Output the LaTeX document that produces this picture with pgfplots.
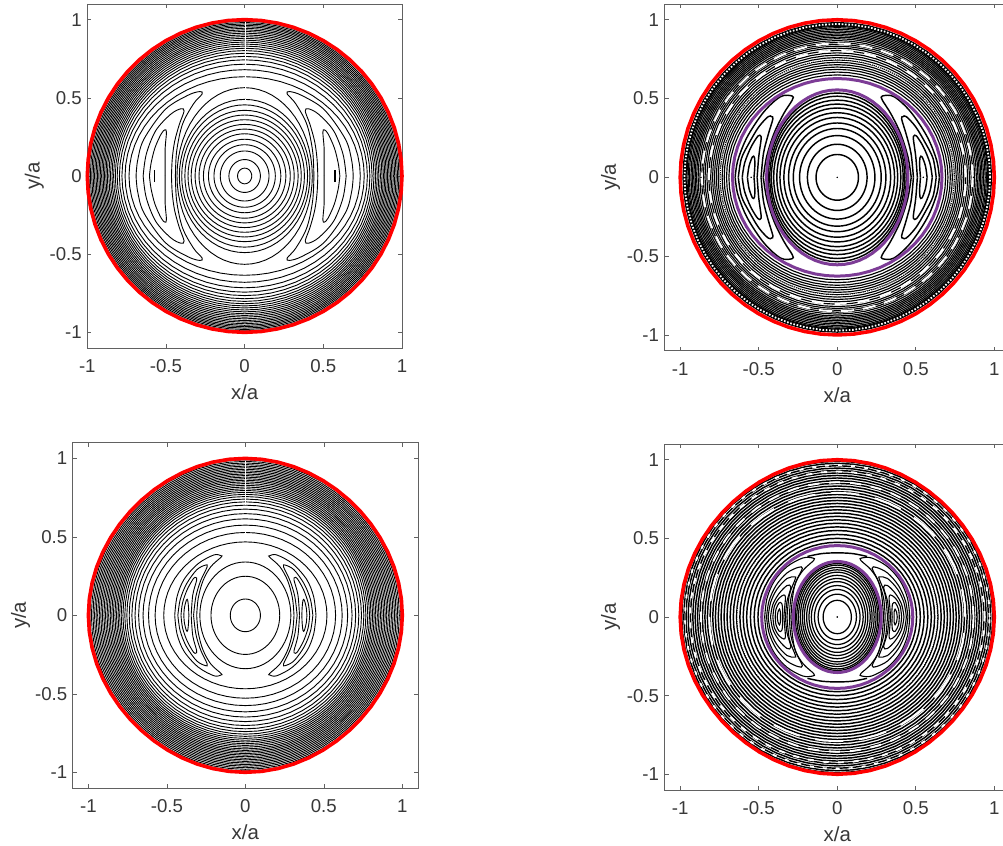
\documentclass[border=0pt]{standalone}
\usepackage{pgfplots}
\usepackage{pgfplotstable}
\usepackage{fontspec}
\setmainfont{Liberation Sans}
\pgfplotsset{compat=1.18}
\definecolor{lab}{gray}{0.22}
\definecolor{box}{gray}{0.38}
\definecolor{purp}{RGB}{125,60,150}
\pgfplotstableread{
c s f
1 0 1
.9945 .1045 .9995
.9781 .2079 .998
.9511 .3090 .9959
.9135 .4067 .9934
.8660 .5 .991
.8090 .5878 .9891
.7431 .6691 .9881
.6691 .7431 .9881
.5878 .8090 .9891
.5 .8660 .991
.4067 .9135 .9934
.3090 .9511 .9959
.2079 .9781 .998
.1045 .9945 .9995
0 1 1
-.1045 .9945 .9995
-.2079 .9781 .998
-.3090 .9511 .9959
-.4067 .9135 .9934
-.5 .8660 .991
-.5878 .8090 .9891
-.6691 .7431 .9881
-.7431 .6691 .9881
-.8090 .5878 .9891
-.8660 .5 .991
-.9135 .4067 .9934
-.9511 .3090 .9959
-.9781 .2079 .998
-.9945 .1045 .9995
-1 0 1
-.9945 -.1045 .9995
-.9781 -.2079 .998
-.9511 -.3090 .9959
-.9135 -.4067 .9934
-.8660 -.5 .991
-.8090 -.5878 .9891
-.7431 -.6691 .9881
-.6691 -.7431 .9881
-.5878 -.8090 .9891
-.5 -.8660 .991
-.4067 -.9135 .9934
-.3090 -.9511 .9959
-.2079 -.9781 .998
-.1045 -.9945 .9995
0 -1 1
.1045 -.9945 .9995
.2079 -.9781 .998
.3090 -.9511 .9959
.4067 -.9135 .9934
.5 -.8660 .991
.5878 -.8090 .9891
.6691 -.7431 .9881
.7431 -.6691 .9881
.8090 -.5878 .9891
.8660 -.5 .991
.9135 -.4067 .9934
.9511 -.3090 .9959
.9781 -.2079 .998
.9945 -.1045 .9995
1 0 1
}\UnitRing
% --- top left crescents
\pgfplotstableread{
x y
.69 0
.68 .10
.64 .236
.506 .424
.361 .516
.285 .54
.27 .525
.324 .463
.395 .331
.432 .159
.44 0
}\tlA
\pgfplotstableread{
x y
.645 0
.625 .14
.565 .29
.47 .395
.405 .43
.385 .415
.415 .33
.445 .22
.46 .11
.465 0
}\tlB
\pgfplotstableread{
x y
.605 0
.595 .08
.57 .18
.53 .27
.507 .295
.497 .28
.505 .18
.505 .08
.505 0
}\tlC
% --- top right crescents
\pgfplotstableread{
x y
.65 0
.633 .108
.573 .257
.467 .416
.361 .512
.287 .516
.287 .49
.34 .406
.403 .278
.45 .13
.471 0
}\trA
\pgfplotstableread{
x y
.63 0
.61 .12
.56 .22
.50 .32
.44 .385
.418 .385
.41 .37
.44 .27
.47 .15
.485 0
}\trB
\pgfplotstableread{
x y
.605 0
.59 .09
.55 .19
.505 .262
.487 .262
.485 .24
.50 .13
.51 0
}\trC
\pgfplotstableread{
x y
.572 0
.562 .07
.54 .13
.527 .125
.525 .07
.53 0
}\trD
% --- bottom left crescents
\pgfplotstableread{
x y
.45 0
.435 .12
.39 .23
.30 .33
.2 .385
.155 .38
.155 .37
.22 .31
.27 .22
.30 .11
.31 0
}\blA
\pgfplotstableread{
x y
.43 0
.415 .1
.375 .2
.31 .29
.255 .32
.243 .31
.285 .22
.315 .12
.33 0
}\blB
\pgfplotstableread{
x y
.41 0
.40 .08
.37 .165
.33 .235
.315 .24
.31 .225
.335 .13
.345 0
}\blC
\pgfplotstableread{
x y
.392 0
.388 .05
.375 .098
.367 .095
.362 .05
.36 0
}\blD
% --- bottom right crescents
\pgfplotstableread{
x y
.462 0
.447 .12
.40 .23
.32 .32
.22 .375
.155 .375
.15 .36
.215 .30
.265 .22
.285 .12
.295 0
}\brA
\pgfplotstableread{
x y
.45 0
.435 .1
.39 .2
.32 .28
.25 .315
.222 .31
.26 .23
.295 .12
.305 0
}\brB
\pgfplotstableread{
x y
.44 0
.425 .09
.385 .175
.32 .245
.27 .255
.268 .24
.305 .14
.32 0
}\brC
\pgfplotstableread{
x y
.425 0
.41 .08
.37 .15
.32 .2
.295 .19
.32 .10
.33 0
}\brD
\pgfplotstableread{
x y
.41 0
.40 .07
.37 .12
.34 .14
.33 .125
.335 .06
.34 0
}\brE
\pgfplotstableread{
x y
.395 0
.39 .05
.37 .09
.353 .085
.348 .04
.35 0
}\brF
\pgfplotstableread{
x y
.382 0
.378 .03
.368 .05
.362 .03
.362 0
}\brG
\newcommand\rings[2]{\foreach \rx/\ry in {#2}{\edef\tmp{\noexpand\addplot[#1] table[x expr=\noexpand\thisrow{c}*\rx,y expr=\noexpand\thisrow{s}*\ry]{\noexpand\UnitRing};}\tmp}}
\newcommand\cres[2]{\foreach \sx in {1,-1}{\foreach \sy in {1,-1}{\edef\tmp{\noexpand\addplot[#1,smooth,tension=.55] table[x expr=\noexpand\thisrow{x}*\sx,y expr=\noexpand\thisrow{y}*\sy]{\noexpand#2};}\tmp}}}
\pgfplotsset{
 panel/.style={scale only axis,anchor=south west,clip=false,
  ymin=-1.1,ymax=1.1,
  xtick={-1,-.5,0,.5,1},xticklabels={-1,-0.5,0,0.5,1},
  ytick={-1,-.5,0,.5,1},yticklabels={-1,-0.5,0,0.5,1},
  tick align=inside,major tick length=4bp,
  tick style={box,line width=.6bp},
  axis line style={box,line width=.9bp},
  tick label style={font=\fontsize{18.7}{20}\selectfont,text=lab},
  label style={font=\fontsize{20.5}{22}\selectfont,text=lab},
  xticklabel style={yshift=-8bp},
  yticklabel style={xshift=-2bp},
  xlabel={x/a},ylabel={y/a},
  xlabel style={yshift=-5bp},
 },
 ct/.style={black,line width=.9bp,no marks},
 cT/.style={black,line width=1.15bp,no marks},
 cI/.style={black,line width=1.45bp,no marks},
 cB/.style={black,line width=1.25bp,no marks},
 cS/.style={black,line width=1.1bp,no marks},
 rd/.style={red,line width=3.6bp,no marks},
 pu/.style={purp,line width=3bp,no marks},
}
\begin{document}
\begin{tikzpicture}
\useasboundingbox (0,0) rectangle (1003bp,846bp);
% top left
\begin{axis}[panel,at={(87.3bp,498bp)},width=314.7bp,height=344bp,xmin=-1,xmax=1,ylabel style={yshift=-1bp}]
\rings{ct}{.045/.05,.10/.105,.155/.16,.195/.20,.23/.235,.262/.27,.29/.30,.315/.33,.34/.36,.36/.39,.38/.42,.40/.455,.415/.49,.43/.565}
\rings{ct}{.735/.635,.76/.68,.78/.715,.796/.743,.81/.765,.822/.785,.833/.802,.843/.817,.853/.831,.863/.844,.873/.857,.882/.869,.891/.881,.90/.892,.909/.903,.918/.914,.927/.925,.936/.935,.945/.945,.954/.955,.963/.964,.972/.973,.981/.982,.99/.991}
\cres{ct}{\tlA}\cres{ct}{\tlB}\cres{ct}{\tlC}
\addplot[black,line width=1.6bp,no marks] coordinates {(.573,-.04)(.573,.04)};
\addplot[black,line width=1.6bp,no marks] coordinates {(-.573,-.04)(-.573,.04)};
\addplot[white,line width=1bp,no marks] coordinates {(.004,.69)(.004,.985)};
\addplot[white,line width=1bp,no marks] coordinates {(.004,.625)(.004,.645)};
\addplot[white,line width=1bp,no marks] coordinates {(.004,.555)(.004,.575)};
\addplot[white,line width=1bp,no marks] coordinates {(.004,.485)(.004,.495)};
\addplot[rd] table[x=c,y=s]{\UnitRing};
\end{axis}
% top right
\begin{axis}[panel,at={(664.5bp,495.3bp)},width=345.5bp,height=346.7bp,xmin=-1.1,xmax=1.1]
\rings{cI}{.135/.145,.19/.21,.24/.265,.28/.31,.31/.345,.34/.38,.365/.41,.385/.44,.405/.465,.42/.49,.43/.515,.44/.535}
\rings{cT}{.69/.65,.705/.668,.72/.685,.733/.70,.746/.715,.758/.73,.77/.745,.782/.76,.794/.775,.806/.79,.818/.805,.83/.82,.842/.832,.853/.844,.864/.856,.875/.868,.886/.88,.896/.89,.905/.90,.914/.91,.923/.92,.932/.93,.942/.94,.95/.95,.958/.958}
\rings{black,line width=4.2bp,no marks}{.973/.973}
\rings{white,line width=1.8bp,no marks,dash pattern=on 1.6bp off 1.7bp}{.973/.973}
\rings{white,line width=2bp,no marks,dash pattern=on 13bp off 9bp}{.862/.85}
\rings{white,line width=2bp,no marks,dash pattern=on 12bp off 11bp}{.818/.803}
\rings{white,line width=.9bp,no marks,dash pattern=on .9bp off 1.3bp}{.745/.75}
\cres{cI}{\trA}\cres{cI}{\trB}\cres{cI}{\trC}\cres{cI}{\trD}
\rings{pu}{.45/.555,.667/.627}
\addplot[only marks,mark=*,mark size=.55bp,black] coordinates {(0,0)(.548,0)(-.548,0)(.868,0)(-.868,0)};
\addplot[rd] table[x=c,y=s]{\UnitRing};
\end{axis}
% bottom left
\begin{axis}[panel,at={(72.7bp,58bp)},width=345.3bp,height=345.3bp,xmin=-1.1,xmax=1.1,ylabel style={yshift=-2bp}]
\rings{ct}{.096/.104,.219/.249,.29/.34}
\rings{ct}{.52/.468,.575/.528,.617/.575,.652/.615,.68/.648,.703/.677,.723/.702,.74/.723,.755/.741,.768/.757,.78/.771,.791/.784,.801/.796,.811/.807,.821/.818,.831/.829,.841/.84,.851/.851,.861/.861,.871/.871,.881/.881,.891/.891,.901/.901,.911/.911,.921/.921,.931/.931,.941/.941,.951/.951,.961/.961,.971/.971,.981/.981,.991/.991}
\cres{ct}{\blA}\cres{ct}{\blB}\cres{ct}{\blC}\cres{ct}{\blD}
\addplot[white,line width=1bp,no marks] coordinates {(.004,.70)(.004,.985)};
\addplot[white,line width=1bp,no marks] coordinates {(.004,.62)(.004,.64)};
\addplot[white,line width=1bp,no marks] coordinates {(.004,.52)(.004,.54)};
\addplot[rd] table[x expr=\thisrow{c}*\thisrow{f},y expr=\thisrow{s}*\thisrow{f}]{\UnitRing};
\end{axis}
% bottom right
\begin{axis}[panel,at={(664.5bp,56bp)},width=345.5bp,height=346bp,xmin=-1.1,xmax=1.1]
\rings{cB}{.09/.106,.122/.145,.145/.175,.165/.20,.18/.225,.195/.245,.21/.265,.222/.285,.235/.30,.247/.315,.258/.33,.268/.34}
\rings{cI}{.505/.475,.529/.50,.553/.525,.577/.55,.599/.573,.62/.596,.641/.618,.662/.64,.682/.661,.702/.682,.721/.702,.74/.722,.758/.741,.776/.76,.793/.779,.81/.797,.827/.815,.843/.833,.859/.85,.875/.867,.89/.884,.905/.90,.92/.916,.935/.932,.949/.947,.963/.962,.977/.977,.99/.99}
\rings{white,line width=1.9bp,no marks,dash pattern=on 4bp off 9bp}{.97/.966}
\rings{white,line width=1.9bp,no marks,dash pattern=on 6bp off 9bp}{.938/.925}
\rings{white,line width=1.9bp,no marks,dash pattern=on 11bp off 10bp}{.868/.857}
\rings{white,line width=1.9bp,no marks,dash pattern=on 28bp off 16bp}{.815/.79}
\rings{white,line width=.9bp,no marks,dash pattern=on .9bp off 1.3bp}{.635/.61}
\cres{cS}{\brA}\cres{cS}{\brB}\cres{cS}{\brC}\cres{cS}{\brD}\cres{cS}{\brE}\cres{cS}{\brF}\cres{cS}{\brG}
\addplot[cI,smooth] coordinates {(-.19,.385)(-.10,.403)(0,.408)(.10,.403)(.19,.385)};
\addplot[cI,smooth] coordinates {(-.19,-.39)(-.10,-.408)(0,-.413)(.10,-.408)(.19,-.39)};
\rings{pu}{.28/.353,.481/.454}
\addplot[only marks,mark=*,mark size=.55bp,black] coordinates {(0,0)};
\addplot[rd] table[x expr=\thisrow{c}*\thisrow{f},y expr=\thisrow{s}*\thisrow{f}]{\UnitRing};
\end{axis}
\end{tikzpicture}
\end{document}
